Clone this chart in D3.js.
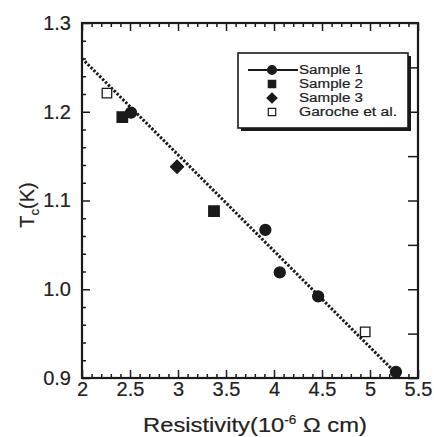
<!DOCTYPE html>
<html><head><meta charset="utf-8">
<script src="https://cdn.jsdelivr.net/npm/d3@7"></script>
<style>body{margin:0;background:#fff}svg{display:block}text{font-family:"Liberation Sans",Arial,sans-serif;fill:#222;stroke:#222;stroke-width:0.2px}</style>
</head><body>
<svg id="c" width="434" height="437"></svg>
<script>
// data
const sample1X = [2.51, 3.91, 4.06, 4.46, 5.27];
const sample1Y = [1.199, 1.067, 1.019, 0.992, 0.907];
const sample2X = [2.42, 3.375];
const sample2Y = [1.194, 1.088];
const sample3X = [2.99];
const sample3Y = [1.138];
const garocheX = [2.26, 4.95];
const garocheY = [1.221, 0.952];
const fitX = [2.0, 5.32];
const fitY = [1.260, 0.900];
const xTicks = [2, 2.5, 3, 3.5, 4, 4.5, 5, 5.5];
const xTickLabels = ["2", "2.5", "3", "3.5", "4", "4.5", "5", "5.5"];
const yTicks = [0.9, 1.0, 1.1, 1.2, 1.3];
const yTickLabels = ["0.9", "1.0", "1.1", "1.2", "1.3"];
const legendLabels = ["Sample 1", "Sample 2", "Sample 3", "Garoche et al."];
const legendWidths = [64, 64, 64, 98];

const svg = d3.select("#c");
const L = 82, R = 418, T = 23, B = 378;
const x = d3.scaleLinear().domain([2, 5.5]).range([L, R]);
const y = d3.scaleLinear().domain([0.9, 1.3]).range([B, T]);
const ink = "#1a1a1a";

const rng = (a, b, s) => d3.range(Math.round((b - a) / s) + 1).map(i => +(a + i * s).toFixed(4));
const xMinor = rng(2, 5.5, 0.1).filter(v => !xTicks.some(t => Math.abs(t - v) < 1e-6));
const yMinor = rng(0.9, 1.3, 0.02).filter(v => !yTicks.some(t => Math.abs(t - v) < 1e-6));

function styleAxis(g) {
  g.select(".domain").remove();
  g.selectAll("line").attr("stroke", ink).attr("stroke-width", 1.5);
  g.selectAll("text").style("font-size", "20px").attr("fill", "#222");
}
// bottom
svg.append("g").attr("transform", `translate(0,${B})`)
  .call(d3.axisBottom(x).tickValues(xTicks).tickFormat((d, i) => xTickLabels[i]).tickSize(-8).tickPadding(4))
  .call(styleAxis).call(g => g.selectAll("text").attr("dy", "0.76em").attr("y", 3));
svg.append("g").attr("transform", `translate(0,${B})`)
  .call(d3.axisBottom(x).tickValues(xMinor).tickFormat("").tickSize(-4)).call(styleAxis);
// top
svg.append("g").attr("transform", `translate(0,${T})`)
  .call(d3.axisTop(x).tickValues(xTicks).tickFormat("").tickSize(-8)).call(styleAxis);
svg.append("g").attr("transform", `translate(0,${T})`)
  .call(d3.axisTop(x).tickValues(xMinor).tickFormat("").tickSize(-4)).call(styleAxis);
// left
svg.append("g").attr("transform", `translate(${L},0)`)
  .call(d3.axisLeft(y).tickValues(yTicks).tickFormat((d, i) => yTickLabels[i]).tickSize(-8).tickPadding(11))
  .call(styleAxis);
svg.append("g").attr("transform", `translate(${L},0)`)
  .call(d3.axisLeft(y).tickValues(yMinor).tickFormat("").tickSize(-4)).call(styleAxis);
// right
svg.append("g").attr("transform", `translate(${R},0)`)
  .call(d3.axisRight(y).tickValues(rng(0.9, 1.3, 0.05)).tickFormat("").tickSize(-10)).call(styleAxis);

// frame
svg.append("rect").attr("x", L).attr("y", T).attr("width", R - L).attr("height", B - T)
  .attr("fill", "none").attr("stroke", ink).attr("stroke-width", 2.2);

// fit line
svg.append("path").datum(fitX.map((v, i) => [v, fitY[i]]))
  .attr("d", d3.line().x(d => x(d[0])).y(d => y(d[1])))
  .attr("fill", "none").attr("stroke", ink).attr("stroke-width", 3).attr("stroke-dasharray", "2.4,1.7");

const sym = (type, size) => d3.symbol().type(type).size(size)();
function pts(xs, ys, type, size, fill, rot) {
  svg.append("g").selectAll("path").data(xs.map((v, i) => [v, ys[i]])).join("path")
    .attr("transform", d => `translate(${x(d[0])},${y(d[1])}) rotate(${rot || 0})`)
    .attr("d", sym(type, size)).attr("fill", fill).attr("stroke", ink).attr("stroke-width", 1.3);
}
pts(garocheX, garocheY, d3.symbolSquare, 90, "#fff");
pts(sample2X, sample2Y, d3.symbolSquare, 110, ink);
pts(sample3X, sample3Y, d3.symbolSquare, 85, ink, 45);
pts(sample1X, sample1Y, d3.symbolCircle, 95, ink);

// legend
const lg = svg.append("g");
const bx = 238, by = 53, bw = 170, bh = 75;
lg.append("rect").attr("x", bx + 3).attr("y", by + 3).attr("width", bw).attr("height", bh).attr("fill", ink);
lg.append("rect").attr("x", bx).attr("y", by).attr("width", bw).attr("height", bh)
  .attr("fill", "#fff").attr("stroke", ink).attr("stroke-width", 1.6);
const rowY = [70, 84, 98, 112];
const mx = 272;
lg.append("line").attr("x1", 248).attr("x2", 298).attr("y1", rowY[0]).attr("y2", rowY[0])
  .attr("stroke", ink).attr("stroke-width", 1.8);
const legSyms = [[d3.symbolCircle, 60, ink, 0], [d3.symbolSquare, 55, ink, 0], [d3.symbolSquare, 50, ink, 45], [d3.symbolSquare, 55, "#fff", 0]];
legSyms.forEach((s, i) => {
  lg.append("path").attr("transform", `translate(${mx},${rowY[i]}) rotate(${s[3]})`).attr("d", sym(s[0], s[1]))
    .attr("fill", s[2]).attr("stroke", ink).attr("stroke-width", 1.2);
});
lg.selectAll("text.l").data(legendLabels).join("text").attr("class", "l")
  .attr("x", 299).attr("y", (d, i) => rowY[i]).attr("dy", "0.36em")
  .attr("textLength", (d, i) => legendWidths[i]).attr("lengthAdjust", "spacingAndGlyphs")
  .style("font-size", "12px").text(d => d);

// axis titles
const xt = svg.append("text").attr("x", 255).attr("y", 432).attr("text-anchor", "middle").style("font-size", "21px");
xt.append("tspan").text("Resistivity(10");
xt.append("tspan").attr("dy", -8).style("font-size", "12px").text("-6");
xt.append("tspan").attr("dy", 8).text(" Ω cm)");
{
  const bb = xt.node().getBBox();
  const s = 224 / bb.width, cx = bb.x + bb.width / 2;
  xt.attr("transform", `translate(${cx},0) scale(${s},1) translate(${-cx},0)`);
}

const yt = svg.append("text").attr("transform", "translate(34,205) rotate(-90)").attr("text-anchor", "middle").style("font-size", "20px");
yt.append("tspan").text("T");
yt.append("tspan").attr("dy", 5).style("font-size", "13px").text("c");
yt.append("tspan").attr("dy", -5).text("(K)");
</script>
</body></html>
